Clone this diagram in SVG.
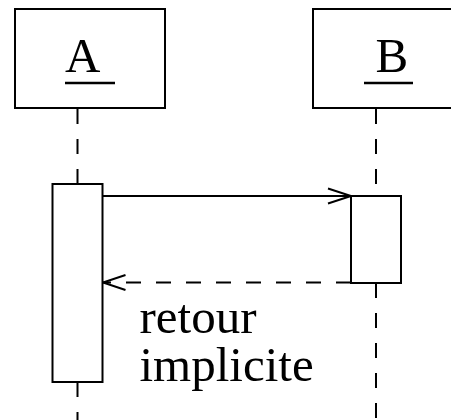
<svg xmlns="http://www.w3.org/2000/svg" width="451" height="420" viewBox="0 0 451 420">
<style>
.box{fill:#fff;stroke:#000;stroke-width:2}
.life{stroke:#000;stroke-width:2;stroke-dasharray:15 15;fill:none}
.line{stroke:#000;stroke-width:2;fill:none}
.dash{stroke:#000;stroke-width:2;fill:none;stroke-dasharray:15 15}
.t{font-family:"Liberation Serif","Times New Roman",serif;font-size:49px;fill:#000}
</style>
<rect width="451" height="420" fill="#fff"/>
<g id="connectors">
<line class="life" x1="77.5" y1="109" x2="77.5" y2="184"/>
<line class="life" x1="77.5" y1="382" x2="77.5" y2="420"/>
<line class="life" x1="376" y1="109" x2="376" y2="196"/>
<line class="life" x1="376" y1="283" x2="376" y2="420"/>
<line class="line" x1="103" y1="196" x2="351" y2="196"/>
<polyline class="line" points="328,188.5 351,196 328,203.5"/>
<line class="dash" x1="351" y1="282.5" x2="103" y2="282.5"/>
<polyline class="line" points="125.5,275 103,282.5 125.5,290"/>
</g>
<g id="A">
<rect class="box" x="15" y="9" width="150" height="99"/>
<text class="t" x="65" y="72">A</text>
<line x1="65" y1="83" x2="115" y2="83" stroke="#000" stroke-width="2.5"/>
</g>
<g id="B">
<rect class="box" x="313" y="9" width="150" height="99"/>
<text class="t" x="375.5" y="72">B</text>
<line x1="364" y1="83" x2="413" y2="83" stroke="#000" stroke-width="2.5"/>
</g>
<g id="actA">
<rect class="box" x="52.5" y="184" width="50" height="198"/>
</g>
<g id="actB">
<rect class="box" x="351" y="196" width="50" height="87"/>
</g>
<g id="label">
<text class="t" x="139.5" y="333">retour</text>
<text class="t" x="139.5" y="381">implicite</text>
</g>
</svg>
